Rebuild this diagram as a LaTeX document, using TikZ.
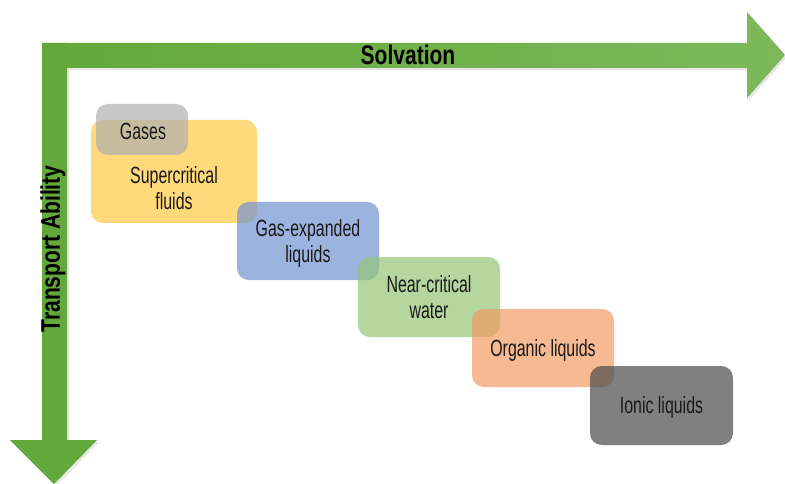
\documentclass[tikz,border=0pt]{standalone}
\usepackage{fontspec}
\setmainfont{Liberation Sans}[FakeStretch=0.78]
\newfontfamily\boxfont{Liberation Sans}[FakeStretch=0.68]
\definecolor{arrowgreen}{RGB}{98,168,58}
\definecolor{arrowlight}{RGB}{125,185,90}
\definecolor{gasgray}{RGB}{176,176,176}
\definecolor{scfyellow}{RGB}{255,201,65}
\definecolor{gxlblue}{RGB}{115,147,209}
\definecolor{ncwgreen}{RGB}{149,197,117}
\definecolor{orgorange}{RGB}{241,156,99}
\definecolor{ildark}{RGB}{74,74,74}
\definecolor{labeltext}{RGB}{25,25,25}
\tikzset{
  solvent/.style={rounded corners=10pt, fill opacity=0.7, text opacity=1, draw=none, text=labeltext,
    align=center, inner sep=0pt, text depth=0pt, font=\boxfont\fontsize{20}{23}\selectfont},
  axislabel/.style={font=\bfseries\fontsize{23}{26}\selectfont, text=black}
}
\begin{document}
\begin{tikzpicture}[x=0.03cm,y=-0.03cm, line join=round]
	\useasboundingbox (0,0) rectangle (785,484);
	% shadows of the two axes
	\fill[black!25, opacity=0.4] (44,45)--(749,45)--(749,14)--(787,57)--(749,100)--(749,70)--(69,70)--(69,442)--(99,442)--(56,486)--(12,442)--(44,442)--cycle;
	% the two axes as one L shaped arrow pair
	\fill[arrowgreen] (42,43)--(67,43)--(67,440)--(97,440)--(54,484)--(10,440)--(42,440)--cycle;
	\shade[left color=arrowgreen, right color=arrowlight] (42,43)--(747,43)--(747,12)--(785,55)--(747,98)--(747,68)--(67,68)--(67,43)--cycle;
	\node[axislabel] (solv) at (408,55) {Solvation};
	\node[axislabel, rotate=90] (trans) at (53,249) {Transport Ability};
	% solvents, from gases to ionic liquids
	\node[solvent, fill=scfyellow, minimum width=166*0.03cm, minimum height=103*0.03cm] (scf) at (174,171.5) {};
	\node[solvent, fill=gasgray, minimum width=92*0.03cm, minimum height=51*0.03cm] (gases) at (142,129.5) {};
	\node[solvent, fill=gxlblue, minimum width=142*0.03cm, minimum height=78*0.03cm] (gxl) at (308,241) {Gas-expanded\\liquids};
	\node[solvent, fill=ncwgreen, minimum width=142*0.03cm, minimum height=80*0.03cm] (ncw) at (429,297) {Near-critical\\water};
	\node[solvent, fill=orgorange, minimum width=142*0.03cm, minimum height=78*0.03cm] (org) at (543,348) {Organic liquids};
	\node[solvent, fill=ildark, minimum width=143*0.03cm, minimum height=79*0.03cm] (il) at (661.5,405.5) {Ionic liquids};
	\node[solvent] (gaslabel) at (143,131) {Gases};
	\node[solvent] (scflabel) at (174,188) {Supercritical\\fluids};
\end{tikzpicture}
\end{document}
